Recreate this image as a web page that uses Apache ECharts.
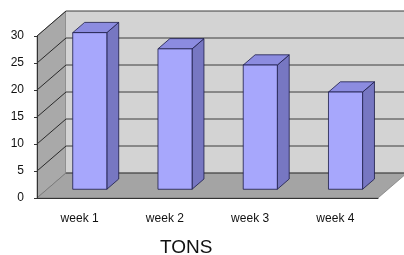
<!DOCTYPE html>
<html>
<head>
<meta charset="utf-8">
<script src="https://cdn.jsdelivr.net/npm/echarts@6/dist/echarts.min.js"></script>
<style>
  html, body { margin: 0; padding: 0; background: #fff; }
  #chart { width: 404px; height: 255px; }
</style>
</head>
<body>
<div id="chart"></div>
<script>
const categories = ['week 1', 'week 2', 'week 3', 'week 4'];
const tons = [29, 26, 23, 18];
const yTicks = [0, 5, 10, 15, 20, 25, 30];

// 3d depth of the plot box, in pixels
const DX = 29, DY = -25;
// where the bars sit in that depth (0 = front, 1 = back)
const F1 = 0.35, F2 = 0.76;

function renderWalls(params, api) {
    let cs = params.coordSys;
    let gx = cs.x, gy = cs.y, gw = cs.width, gh = cs.height;
    let children = [];
    // left wall
    children.push({
        type: 'polygon',
        shape: { points: [[gx, gy], [gx + DX, gy + DY], [gx + DX, gy + gh + DY], [gx, gy + gh]] },
        style: { fill: '#a9a9a9', stroke: '#555', lineWidth: 0.6 }
    });
    // back wall
    children.push({
        type: 'rect',
        shape: { x: gx + DX, y: gy + DY, width: gw + 40, height: gh },
        style: { fill: '#d3d3d3', stroke: null }
    });
    // floor
    children.push({
        type: 'polygon',
        shape: { points: [[gx, gy + gh], [gx + DX, gy + gh + DY], [gx + gw + DX, gy + gh + DY], [gx + gw, gy + gh]] },
        style: { fill: '#a4a4a4', stroke: '#666', lineWidth: 0.6 }
    });
    // grid lines on back wall + left wall
    yTicks.forEach(function (t) {
        let y = api.coord([0, t])[1];
        children.push({
            type: 'line',
            shape: { x1: gx + DX, y1: y + DY, x2: gx + gw + DX + 40, y2: y + DY },
            style: { stroke: '#3c3c3c', lineWidth: 1 }
        });
        if (t > 0) {
            children.push({
                type: 'line',
                shape: { x1: gx, y1: y, x2: gx + DX, y2: y + DY },
                style: { stroke: '#2a2a2a', lineWidth: 1 }
            });
        }
    });
    return { type: 'group', children: children };
}

function renderBar(params, api) {
    let i = api.value(0), v = api.value(1);
    let base = api.coord([i, 0]);
    let top = api.coord([i, v]);
    let bw = api.size([1, 0])[0] * 0.4;
    let x0 = base[0] - bw / 2 + DX * F1, x1 = x0 + bw;
    let y0 = top[1] + DY * F1, y1 = base[1] + DY * F1;
    let bx = DX * (F2 - F1), by = DY * (F2 - F1);
    let edge = { stroke: '#1c1c48', lineWidth: 0.8 };
    return {
        type: 'group',
        children: [
            {
                type: 'polygon',
                shape: { points: [[x1, y0], [x1 + bx, y0 + by], [x1 + bx, y1 + by], [x1, y1]] },
                style: Object.assign({ fill: '#7777c2' }, edge)
            },
            {
                type: 'polygon',
                shape: { points: [[x0, y0], [x1, y0], [x1 + bx, y0 + by], [x0 + bx, y0 + by]] },
                style: Object.assign({ fill: '#8c8ce0' }, edge)
            },
            {
                type: 'rect',
                shape: { x: x0, y: y0, width: bw, height: y1 - y0 },
                style: Object.assign({ fill: '#a7a7fc' }, edge)
            }
        ]
    };
}

let chart = echarts.init(document.getElementById('chart'), null, { renderer: 'canvas' });
let option = {
    backgroundColor: '#fff',
    animation: false,
    title: {
        text: 'TONS',
        left: 155,
        top: 233,
        textStyle: { fontFamily: 'Liberation Sans', fontSize: 19, fontWeight: 'normal', color: '#111' }
    },
    grid: { left: 37, right: 26, top: 36, bottom: 57 },
    xAxis: {
        type: 'category',
        data: categories,
        z: 5,
        axisLine: { lineStyle: { color: '#333', width: 1 } },
        axisTick: { length: 3, lineStyle: { color: '#333' } },
        axisLabel: { fontFamily: 'Liberation Sans', fontSize: 12, color: '#111', margin: 15 }
    },
    yAxis: {
        type: 'value',
        min: 0,
        max: 30,
        interval: 5,
        z: 5,
        axisLine: { show: true, lineStyle: { color: '#333', width: 1 } },
        axisTick: { show: true, length: 3, lineStyle: { color: '#333' } },
        splitLine: { show: false },
        axisLabel: { fontFamily: 'Liberation Sans', fontSize: 12, color: '#111', margin: 13 }
    },
    series: [
        {
            type: 'custom',
            z: 1,
            silent: true,
            data: [[0, 0]],
            renderItem: renderWalls
        },
        {
            type: 'custom',
            z: 2,
            data: tons.map(function (v, i) { return [i, v]; }),
            encode: { x: 0, y: 1 },
            renderItem: renderBar
        }
    ]
};
chart.setOption(option);
</script>
</body>
</html>
